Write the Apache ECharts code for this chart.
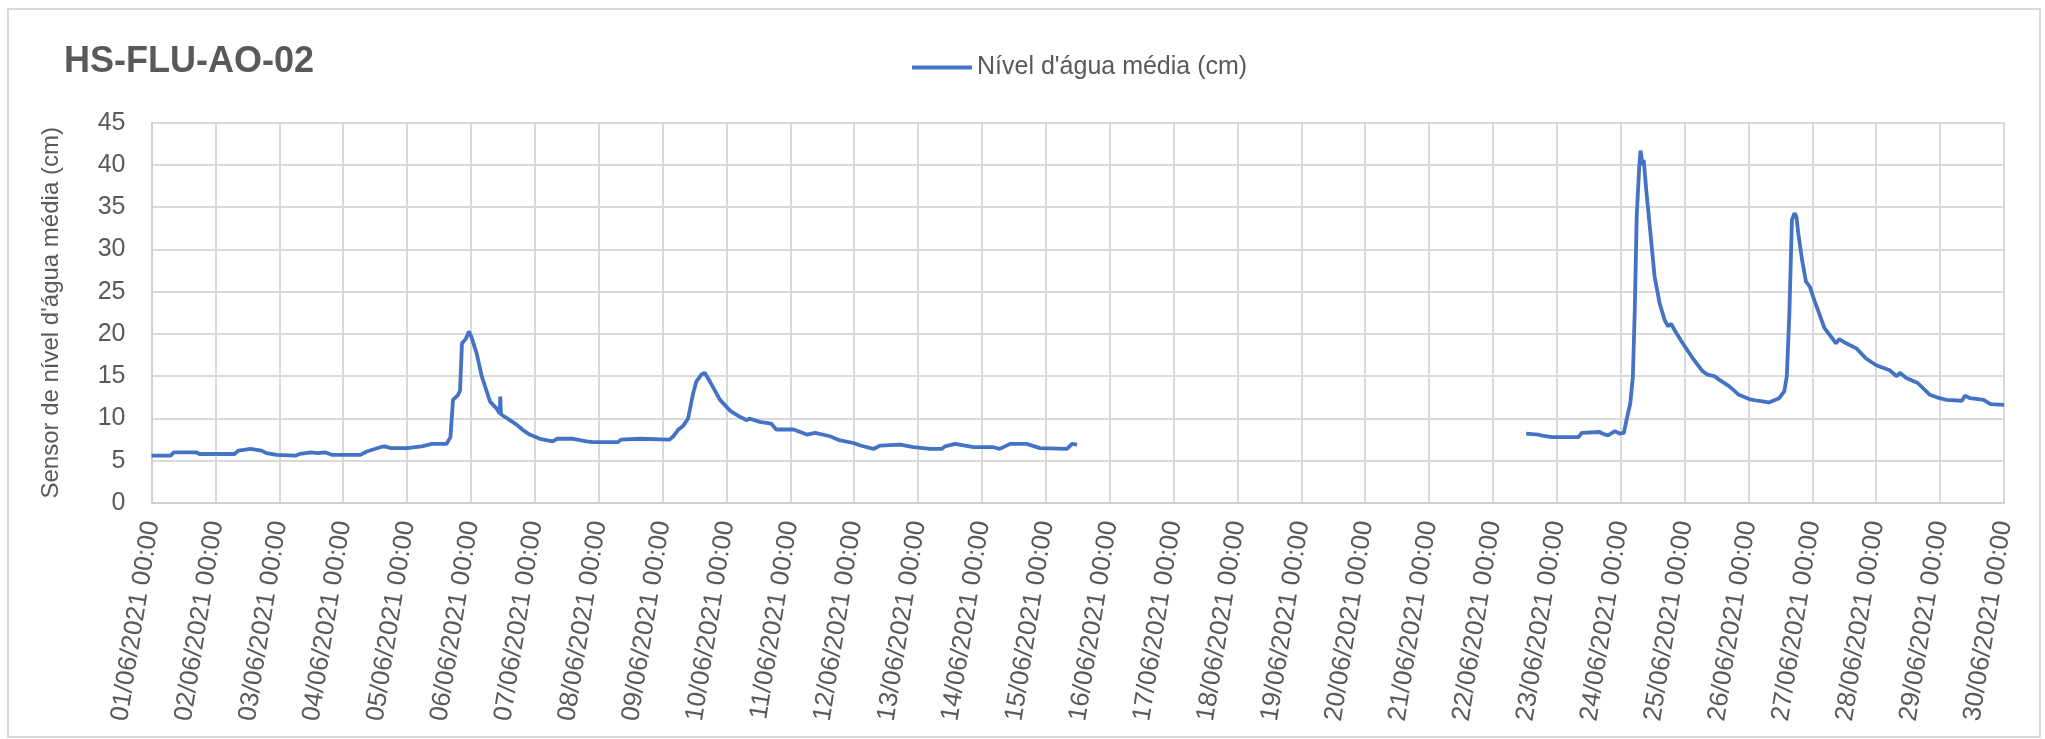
<!DOCTYPE html>
<html>
<head>
<meta charset="utf-8">
<script src="https://cdn.jsdelivr.net/npm/echarts@6/dist/echarts.min.js"></script>
<style>
html,body{margin:0;padding:0;background:#fff;}
#chart{width:2045px;height:739px;}
</style>
</head>
<body>
<div id="chart"></div>
<script>
const chartTitle = 'HS-FLU-AO-02';
const seriesName = "Nível d'água média (cm)";
const yAxisName = "Sensor de nível d'água média (cm)";

const tickLabels = [
  '01/06/2021 00:00','02/06/2021 00:00','03/06/2021 00:00','04/06/2021 00:00','05/06/2021 00:00',
  '06/06/2021 00:00','07/06/2021 00:00','08/06/2021 00:00','09/06/2021 00:00','10/06/2021 00:00',
  '11/06/2021 00:00','12/06/2021 00:00','13/06/2021 00:00','14/06/2021 00:00','15/06/2021 00:00',
  '16/06/2021 00:00','17/06/2021 00:00','18/06/2021 00:00','19/06/2021 00:00','20/06/2021 00:00',
  '21/06/2021 00:00','22/06/2021 00:00','23/06/2021 00:00','24/06/2021 00:00','25/06/2021 00:00',
  '26/06/2021 00:00','27/06/2021 00:00','28/06/2021 00:00','29/06/2021 00:00','30/06/2021 00:00'
];

// days elapsed since 01/06/2021 00:00 (first recording period)
const days1 = [0.00,0.30,0.35,0.70,0.75,1.30,1.36,1.55,1.72,1.80,1.96,2.25,2.28,2.32,2.50,2.60,2.72,2.82,3.27,3.37,
  3.58,3.65,3.75,4.00,4.23,4.39,4.42,4.62,4.68,4.72,4.80,4.83,4.86,4.92,4.97,5.01,5.09,5.17,5.30,5.40,
  5.45,5.46,5.47,5.61,5.71,5.82,5.92,6.08,6.28,6.35,6.60,6.81,6.90,7.30,7.35,7.64,8.11,8.17,8.25,8.32,
  8.40,8.48,8.53,8.61,8.66,8.74,8.90,9.06,9.21,9.32,9.36,9.52,9.70,9.78,10.05,10.26,10.39,10.62,10.78,10.99,
  11.10,11.30,11.41,11.72,11.93,12.19,12.37,12.42,12.58,12.87,13.18,13.28,13.44,13.70,13.91,14.33,14.41,14.49];
const levels1 = [5.6,5.6,6.0,6.0,5.8,5.8,6.2,6.4,6.2,5.9,5.7,5.6,5.5,5.8,6.0,5.9,6.0,5.7,5.7,6.1,
  6.6,6.7,6.5,6.5,6.7,7.0,6.8,7.0,7.8,12.2,12.8,13.3,18.9,19.4,20.3,19.6,17.7,15.0,12.0,11.2,
  10.6,12.6,10.5,9.8,9.3,8.6,8.1,7.6,7.3,7.6,7.6,7.3,7.2,7.2,7.5,7.6,7.5,7.9,8.7,9.1,
  10.0,13.0,14.4,15.2,15.4,14.4,12.2,10.9,10.2,9.8,10.0,9.6,9.4,8.7,8.7,8.1,8.3,7.9,7.4,7.1,
  6.8,6.4,6.8,6.9,6.6,6.4,6.4,6.7,7.0,6.6,6.6,6.4,7.0,7.0,6.5,6.4,7.0,6.9];

// second recording period
const days2 = [21.52,21.71,21.75,21.92,22.34,22.39,22.67,22.72,22.80,22.91,22.99,23.05,23.09,23.15,23.19,23.22,23.25,23.29,23.31,23.34,
  23.36,23.40,23.45,23.53,23.61,23.69,23.74,23.79,23.84,23.97,24.13,24.28,24.36,24.47,24.54,24.70,24.85,25.01,25.14,25.32,
  25.48,25.56,25.60,25.64,25.68,25.72,25.75,25.78,25.84,25.90,25.96,26.03,26.19,26.29,26.37,26.42,26.53,26.69,26.84,27.00,
  27.21,27.32,27.37,27.47,27.65,27.84,27.99,28.10,28.34,28.39,28.47,28.68,28.79,29.00];
const levels2 = [8.2,8.1,8.0,7.8,7.8,8.3,8.4,8.2,8.0,8.5,8.2,8.3,9.8,11.8,14.9,22.8,33.9,39.8,41.7,40.0,
  40.6,37.0,33.1,26.8,23.6,21.6,20.9,21.2,20.5,18.9,17.1,15.6,15.2,15.0,14.6,13.8,12.8,12.3,12.1,11.9,
  12.4,13.2,15.0,22.4,33.5,34.3,33.9,31.9,28.7,26.2,25.6,24.0,20.7,19.7,18.9,19.4,18.9,18.3,17.1,16.3,
  15.7,15.0,15.4,14.8,14.2,12.8,12.4,12.2,12.1,12.7,12.4,12.2,11.7,11.6];

const data = days1.map((d, i) => [d, levels1[i]])
  .concat([[18, null]])
  .concat(days2.map((d, i) => [d, levels2[i]]));

const textColor = '#595959';
const gridColor = '#d9d9d9';
const fontFam = '"Liberation Sans", Arial, sans-serif';

const chart = echarts.init(document.getElementById('chart'));
chart.setOption({
  animation: false,
  backgroundColor: '#fff',
  graphic: [{
    type: 'rect', silent: true, z: -1,
    shape: { x: 8, y: 9, width: 2032, height: 728 },
    style: { fill: 'none', stroke: '#d9d9d9', lineWidth: 2 }
  }],
  title: {
    text: chartTitle, left: 64, top: 44, padding: 0,
    textStyle: { color: textColor, fontSize: 36, fontWeight: 'bold', fontFamily: fontFam }
  },
  legend: {
    left: 912, top: 55, padding: 0,
    icon: 'rect', itemWidth: 60, itemHeight: 4,
    textStyle: { color: textColor, fontSize: 25, fontFamily: fontFam },
    data: [seriesName]
  },
  grid: { left: 151.5, right: 41, top: 122.7, bottom: 236, containLabel: false },
  xAxis: {
    type: 'value', min: 0, max: 29, interval: 1,
    axisLine: { show: true, lineStyle: { color: '#cfcfcf', width: 2 } },
    axisTick: { show: false },
    splitLine: { show: true, lineStyle: { color: gridColor, width: 2 } },
    axisLabel: {
      rotate: 81, margin: 18, color: textColor, fontSize: 26, fontFamily: fontFam,
      formatter: v => tickLabels[Math.round(v)] || ''
    }
  },
  yAxis: {
    type: 'value', min: 0, max: 45, interval: 5,
    name: yAxisName, nameLocation: 'middle', nameGap: 88, nameRotate: 90,
    nameTextStyle: { color: textColor, fontSize: 24, fontFamily: fontFam },
    axisLine: { show: true, lineStyle: { color: '#cfcfcf', width: 2 } },
    axisTick: { show: false },
    splitLine: { show: true, lineStyle: { color: gridColor, width: 2 } },
    axisLabel: { margin: 26, color: textColor, fontSize: 25, fontFamily: fontFam }
  },
  series: [{
    name: seriesName, type: 'line', data: data,
    showSymbol: false, symbol: 'none', connectNulls: false,
    lineStyle: { color: '#4472C4', width: 3.8 },
    itemStyle: { color: '#4472C4' }
  }]
});
</script>
</body>
</html>
